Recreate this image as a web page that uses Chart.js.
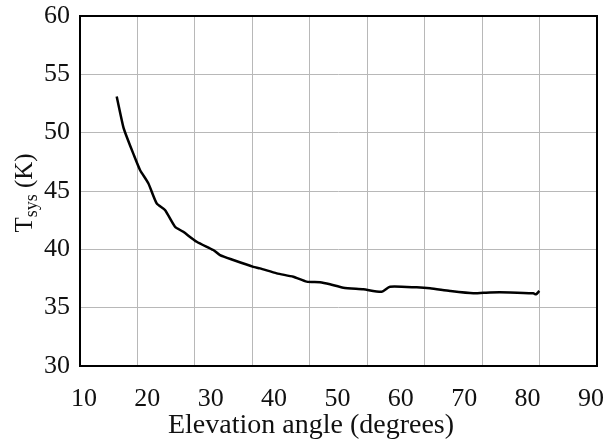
<!DOCTYPE html>
<html>
<head>
<meta charset="utf-8">
<script src="https://cdn.jsdelivr.net/npm/chart.js@4"></script>
<style>
  html, body { margin: 0; padding: 0; background: #fff; }
  #wrap { width: 608px; height: 439px; }
</style>
</head>
<body>
<div id="wrap"><canvas id="tsys"></canvas></div>
<script>
// elevation angle (deg) and system temperature (K)
const elevation = [15.16, 16.2, 16.74, 17.78, 18.84, 20.15, 21.47, 22.78, 24.36, 25.67, 27.79, 30.4, 31.46, 33.56, 36.72, 37.77, 40.41, 43.03, 45.14, 47.24, 48.82, 50.92, 54.08, 56.98, 58.29, 62.5, 64.6, 67.76, 71.43, 74.07, 77.23, 80.9, 81.33, 81.85];
const tsys = [53.1, 50.5, 49.65, 48.2, 46.8, 45.66, 43.94, 43.37, 41.94, 41.5, 40.65, 39.94, 39.51, 39.09, 38.5, 38.37, 37.94, 37.65, 37.23, 37.17, 37.0, 36.71, 36.57, 36.37, 36.8, 36.74, 36.66, 36.43, 36.23, 36.31, 36.31, 36.23, 36.14, 36.43];
const xTicks = [10, 20, 30, 40, 50, 60, 70, 80, 90];
const yTicks = [30, 35, 40, 45, 50, 55, 60];

const serif = "'Liberation Serif', 'Times New Roman', serif";

// frame around the plot plus the two axis titles (y one has a subscript)
const decorations = {
    id: 'decorations',
    afterDraw(chart) {
        const { ctx, chartArea: a } = chart;
        ctx.save();
        ctx.strokeStyle = '#000';
        ctx.lineWidth = 2;
        ctx.strokeRect(a.left, a.top, a.right - a.left, a.bottom - a.top);

        ctx.fillStyle = '#111';
        ctx.textBaseline = 'alphabetic';
        ctx.font = `28px ${serif}`;
        ctx.textAlign = 'center';
        ctx.fillText('Elevation angle (degrees)', 311, 433);

        ctx.translate(32, 193);
        ctx.rotate(-Math.PI / 2);
        const big = `25px ${serif}`, small = `18px ${serif}`;
        ctx.font = big;
        const wT = ctx.measureText('T').width;
        const wK = ctx.measureText(' (K)').width;
        ctx.font = small;
        const wS = ctx.measureText('sys').width;
        let x = -(wT + wS + wK) / 2;
        ctx.textAlign = 'left';
        ctx.font = big;
        ctx.fillText('T', x, 0);
        x += wT;
        ctx.font = small;
        ctx.fillText('sys', x, 5);
        x += wS;
        ctx.font = big;
        ctx.fillText(' (K)', x, 0);
        ctx.restore();
    }
};

new Chart(document.querySelector('#tsys'), {
    type: 'line',
    data: {
        datasets: [
            {
                data: elevation.map((e, i) => ({ x: e, y: tsys[i] })),
                borderColor: '#000',
                borderWidth: 2.5,
                pointRadius: 0,
                tension: .2,
                fill: false
            }
        ]
    },
    options: {
        responsive: true,
        maintainAspectRatio: false,
        animation: false,
        layout: { padding: { top: 16, right: 11 } },
        plugins: {
            legend: { display: false },
            tooltip: { enabled: false }
        },
        scales: {
            x: {
                type: 'linear',
                min: 9.37,
                max: 90.95,
                afterBuildTicks: s => { s.ticks = xTicks.map(v => ({ value: v })); },
                afterFit: s => { s.height = 73; s.paddingLeft = 0; s.paddingRight = 0; },
                grid: { display: false },
                border: { display: false },
                ticks: {
                    color: '#111',
                    padding: 10,
                    maxRotation: 0,
                    font: { family: serif, size: 26 }
                }
            },
            // vertical grid is split into nine columns
            xGrid: {
                type: 'linear',
                position: 'top',
                min: 0,
                max: 9,
                afterFit: s => { s.height = 0; s.paddingLeft = 0; s.paddingRight = 0; },
                ticks: { display: false, stepSize: 1 },
                grid: { color: '#b8b8b8', lineWidth: 1, drawTicks: false },
                border: { display: false }
            },
            y: {
                type: 'linear',
                min: 30,
                max: 60,
                afterBuildTicks: s => { s.ticks = yTicks.map(v => ({ value: v })); },
                afterFit: s => { s.width = 80; s.paddingTop = 0; s.paddingBottom = 0; },
                grid: { color: '#b8b8b8', lineWidth: 1, drawTicks: false },
                border: { display: false },
                ticks: {
                    color: '#111',
                    padding: 10,
                    font: { family: serif, size: 26 }
                }
            }
        }
    },
    plugins: [decorations]
});
</script>
</body>
</html>
